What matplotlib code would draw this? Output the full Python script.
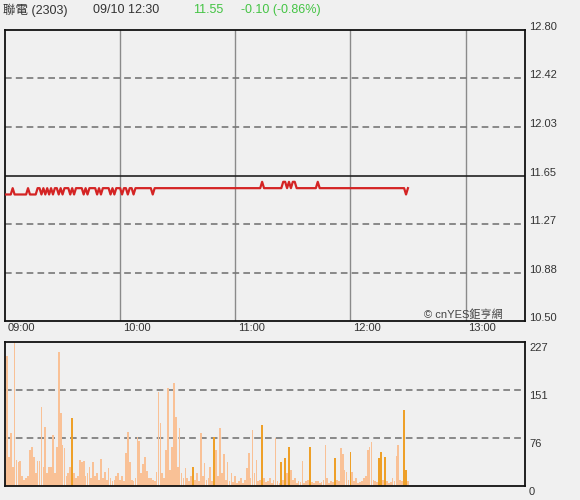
import numpy as np
import matplotlib
matplotlib.use("Agg")
import matplotlib.pyplot as plt
from matplotlib.transforms import blended_transform_factory, ScaledTranslation

# === Data (per-minute, 09:00 .. 12:30) ===
L, M, H = 11.50, 11.55, 11.60
PRICE = [
    L, L, L, L, M, L, L, L, L, L, L, L, M, L, L, L, L, M, M, L,   # 0-19
    M, L, M, L, M, L, M, M, L, M, L, M, M, M, L, M, L, M, M, M,   # 20-39
    M, L, M, L, M, M, M, M, L, M, L, M, M, M, M, L, M, L, M, M,   # 40-59
    M, L, M, M, L, M, M, L, M, M, M, M, M, M, M, M, M, L, M, M,   # 60-79
    M, M, M, M, M, M, M, M, M, M, M, M, M, M, M, M, M, M, M, M,   # 80-99
    M, M, M, M, M, M, M, M, M, M, M, M, M, M, M, M, M, M, M, M,   # 100-119
    M, M, M, M, M, M, M, M, M, M, M, M, M, M, H, M, M, M, M, M,   # 120-139
    M, M, M, M, M, H, H, M, H, M, H, H, M, M, M, M, M, M, M, M,   # 140-159
    M, M, M, H, M, M, M, M, M, M, M, M, M, M, M, M, M, M, M, M,   # 160-179
    M, M, M, M, M, M, M, M, M, M, M, M, M, M, M, M, M, M, M, M,   # 180-199
    M, M, M, M, M, M, M, M, M, L, M,                              # 200-210
]
VOLUME = [
    20, 205, 46, 84, 30, 227, 41, 38, 40, 15, 10, 12, 15, 57, 62, 46, 20, 40, 40, 125,
    30, 93, 20, 30, 30, 80, 20, 62, 211, 115, 64, 60, 15, 20, 30, 107, 20, 12, 15, 41,
    38, 40, 15, 20, 30, 12, 38, 15, 20, 10, 43, 12, 22, 10, 28, 12, 8, 10, 15, 20,
    10, 15, 8, 52, 85, 38, 10, 8, 12, 77, 71, 20, 35, 46, 24, 12, 12, 10, 8, 22,
    148, 99, 20, 12, 57, 154, 25, 62, 162, 109, 30, 91, 20, 12, 28, 12, 8, 15, 30, 10,
    20, 8, 84, 15, 36, 10, 12, 30, 8, 77, 57, 15, 91, 20, 50, 10, 38, 8, 20, 6,
    15, 5, 8, 12, 5, 10, 28, 52, 12, 88, 20, 41, 8, 10, 96, 12, 6, 8, 12, 5,
    10, 76, 8, 5, 38, 10, 44, 20, 62, 25, 10, 12, 5, 8, 6, 40, 5, 8, 10, 62,
    6, 5, 8, 8, 5, 6, 10, 64, 12, 5, 8, 6, 44, 10, 8, 60, 50, 25, 22, 10,
    53, 22, 8, 12, 5, 6, 8, 12, 15, 57, 62, 69, 10, 8, 6, 44, 53, 10, 46, 8,
    5, 6, 12, 8, 48, 64, 10, 8, 120, 25, 8,
]
DARK_BARS = [35, 98, 109, 134, 144, 146, 148, 159, 172, 180, 195, 196, 198, 208, 209]

PRICE_TICKS = [10.50, 10.88, 11.27, 11.65, 12.03, 12.42, 12.80]
PREV_CLOSE = 11.65
VOL_TICKS = [0, 76, 151, 227]
HOURS = [0, 60, 120, 180, 240]
HOUR_LABELS = ["09:00", "10:00", "11:00", "12:00", "13:00"]

BG = "#f0f0f0"
FONT = ["Liberation Sans", "Noto Sans CJK TC", "DejaVu Sans"]
plt.rcParams.update({"font.family": FONT, "font.size": 8, "axes.unicode_minus": False})

fig = plt.figure(figsize=(5.8, 5.0), dpi=100, facecolor=BG)
ax = fig.add_axes([5 / 580, 1 - 321 / 500, 520 / 580, 291 / 500], facecolor=BG)
axv = fig.add_axes([5 / 580, 1 - 486 / 500, 520 / 580, 144 / 500], facecolor=BG)


def shift(trans, dx, dy):
    # offset a transform by dx, dy pixels
    return trans + ScaledTranslation(dx / 100, dy / 100, fig.dpi_scale_trans)


t = np.arange(len(PRICE))

# ---- price panel ----
for h in HOURS[1:]:
    ax.axvline(h, color="#8a8a8a", lw=1.0, zorder=1)
for p in PRICE_TICKS[1:-1]:
    if p == PREV_CLOSE:
        ax.axhline(p, color="#222222", lw=1.2, zorder=1)
    else:
        ax.axhline(p, color="#777777", lw=1.2, ls=(0, (4, 2.5)), zorder=1)
ax.plot(t, PRICE, color="#d42424", lw=1.6, zorder=3)
ax.set_xlim(0, 271)
ax.set_ylim(10.50, 12.80)
ax.set_xticks([])
ax.set_yticks([])
ytr = blended_transform_factory(ax.transAxes, ax.transData)
for p in PRICE_TICKS:
    ax.text(1.0, p, f"{p:.2f}", transform=shift(ytr, 4, 3), ha="left", va="center",
            fontsize=8, color="#333333", clip_on=False)
xtr = blended_transform_factory(ax.transData, ax.transAxes)
for h, lab in zip(HOURS, HOUR_LABELS):
    ax.text(h, 0.0, lab, transform=shift(xtr, 3, -2), ha="left", va="top",
            fontsize=8, color="#333333", clip_on=False)
for s in ax.spines.values():
    s.set_color("#111111")
    s.set_linewidth(1.3)
ax.text(0.957, 0.004, "© cnYES鉅亨網", transform=ax.transAxes, ha="right", va="bottom",
        fontsize=8, color="#444444", zorder=4)

# ---- volume panel ----
for v in VOL_TICKS[1:-1]:
    axv.axhline(v, color="#777777", lw=1.2, ls=(0, (4, 2.5)), zorder=1)
colors = ["#eea028" if i in DARK_BARS else "#f9c196" for i in range(len(VOLUME))]
axv.bar(t, VOLUME, width=0.9, color=colors, linewidth=0, zorder=2)
axv.set_xlim(0, 271)
axv.set_ylim(0, 227)
axv.set_xticks([])
axv.set_yticks([])
vtr = blended_transform_factory(axv.transAxes, axv.transData)
for v in VOL_TICKS:
    axv.text(1.0, v, str(v), transform=shift(vtr, 4, -1), ha="left", va="top",
             fontsize=8, color="#333333", clip_on=False)
for s in axv.spines.values():
    s.set_color("#111111")
    s.set_linewidth(1.3)

# ---- header ----
fig.text(3 / 580, 1 - 10 / 500, "聯電 (2303)", fontsize=9, color="#333333", va="center")
fig.text(93 / 580, 1 - 10 / 500, "09/10 12:30", fontsize=9, color="#333333", va="center")
fig.text(193 / 580, 1 - 10 / 500, "11.55", fontsize=9, color="#44c444", va="center")
fig.text(241 / 580, 1 - 10 / 500, "-0.10 (-0.86%)", fontsize=9, color="#44c444", va="center")

fig.savefig("out.png", dpi=100, facecolor=BG)
